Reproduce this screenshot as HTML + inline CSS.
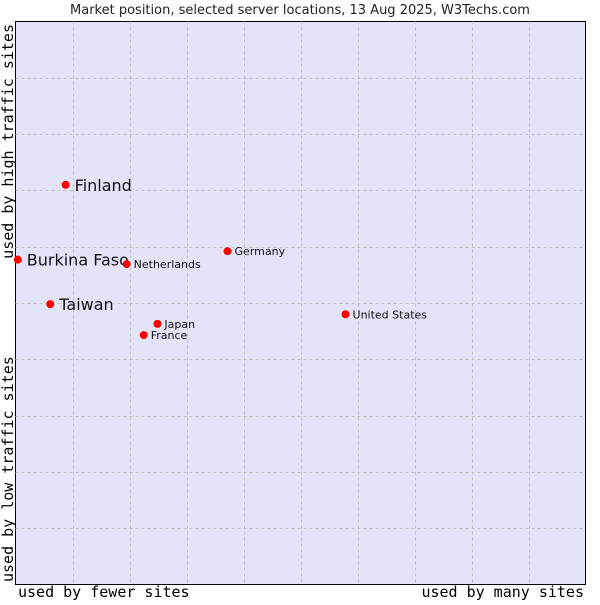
<!DOCTYPE html>
<html><head><meta charset="utf-8"><style>
body{margin:0;background:#fff;width:600px;height:600px;overflow:hidden}
.sans{font-family:"DejaVu Sans","Liberation Sans",sans-serif}
.mono{font-family:"DejaVu Sans Mono","Liberation Mono",monospace}
</style></head><body>
<svg id="chart" width="600" height="600">
<text class="sans" x="300" y="14" text-anchor="middle" font-size="13" fill="#222">Market position, selected server locations, 13 Aug 2025, W3Techs.com</text>
<rect x="15.5" y="21.5" width="570" height="563" fill="#e4e4f8" stroke="#000" stroke-width="1"/>
<g id="grid"></g>
<g id="marks"></g>
<text class="mono" x="18" y="597" font-size="15" fill="#000">used by fewer sites</text>
<text class="mono" x="584" y="597" text-anchor="end" font-size="15" fill="#000">used by many sites</text>
<text class="mono" transform="translate(13,24) rotate(-90)" text-anchor="end" font-size="15" fill="#000">used by high traffic sites</text>
<text class="mono" transform="translate(13,582) rotate(-90)" text-anchor="start" font-size="15" fill="#000">used by low traffic sites</text>
</svg>
<script>
const countries=["Finland","Burkina Faso","Netherlands","Germany","Taiwan","Japan","France","United States"];
const xValues=[8.8,0.4,19.5,37.2,6.1,24.9,22.5,57.9];
const yValues=[71.0,57.7,56.9,59.2,49.8,46.3,44.3,48.0];
const bigLabel=[true,true,false,false,true,false,false,false];
const NS="http://www.w3.org/2000/svg";
const X0=15.5,X1=585.5,Y0=584.5,Y1=21.5;
const sx=v=>X0+(X1-X0)*v/100, sy=v=>Y0-(Y0-Y1)*v/100;
const grid=document.getElementById('grid');
for(let i=1;i<10;i++){
  const v=document.createElementNS(NS,'line');
  
  
  const x=Math.round(sx(i*10))+0.5;
  v.setAttribute('x1',x);v.setAttribute('x2',x);v.setAttribute('y1',Y1);v.setAttribute('y2',Y0);
  v.setAttribute('stroke','#c0c0c0');v.setAttribute('stroke-dasharray','3,3');grid.appendChild(v);
  const h=document.createElementNS(NS,'line');
  
  
  const y=Math.round(sy(i*10))+0.5;
  h.setAttribute('x1',X0);h.setAttribute('x2',X1);h.setAttribute('y1',y);h.setAttribute('y2',y);
  h.setAttribute('stroke','#c0c0c0');h.setAttribute('stroke-dasharray','3,3');grid.appendChild(h);
}
const marks=document.getElementById('marks');
countries.forEach((c,i)=>{
  const x=sx(xValues[i]),y=sy(yValues[i]);
  const p=document.createElementNS(NS,'circle');
  
  
  p.setAttribute('cx',x);p.setAttribute('cy',y);p.setAttribute('r',4);p.setAttribute('fill','#f00');
  marks.appendChild(p);
  const t=document.createElementNS(NS,'text');
  
  
  t.setAttribute('class','sans');
  t.setAttribute('x',x+(bigLabel[i]?9:7));
  t.setAttribute('y',y+(bigLabel[i]?6:4));
  t.setAttribute('font-size',bigLabel[i]?16:11);
  t.setAttribute('fill','#111');
  t.textContent=c;
  marks.appendChild(t);
});
</script>
</body></html>
